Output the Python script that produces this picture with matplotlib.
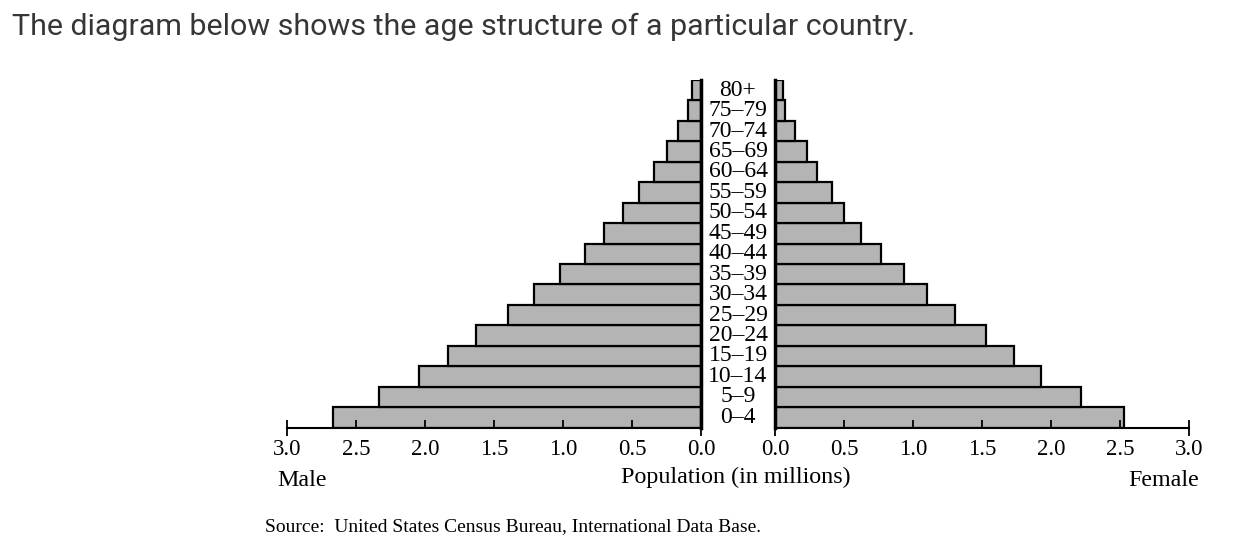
import matplotlib.pyplot as plt
import matplotlib.transforms as mtransforms


# age groups, bottom to top
ages = ["0\u20134", "5\u20139", "10\u201314", "15\u201319", "20\u201324", "25\u201329",
        "30\u201334", "35\u201339", "40\u201344", "45\u201349", "50\u201354", "55\u201359",
        "60\u201364", "65\u201369", "70\u201374", "75\u201379", "80+"]
male = [2.67, 2.33, 2.04, 1.83, 1.63, 1.40, 1.21, 1.02, 0.84, 0.705, 0.565,
        0.45, 0.343, 0.25, 0.164, 0.096, 0.062]
female = [2.53, 2.215, 1.93, 1.73, 1.53, 1.305, 1.10, 0.935, 0.768, 0.62, 0.50,
          0.41, 0.304, 0.232, 0.147, 0.072, 0.058]
ticks = [0.0, 0.5, 1.0, 1.5, 2.0, 2.5, 3.0]
tick_labels = ["0.0", "0.5", "1.0", "1.5", "2.0", "2.5", "3.0"]

serif = "Liberation Serif"
bar_col = "#b4b4b4"

fig = plt.figure(figsize=(12.45, 5.5), dpi=100)
W, H = 1245, 550

def fx(px):
    return px / W

def fy(py):
    return 1 - py / H

bot, top = fy(427.5), fy(80)
ax_m = fig.add_axes([fx(287), bot, fx(701) - fx(287), top - bot])
ax_f = fig.add_axes([fx(775), bot, fx(1189) - fx(775), top - bot])

pos = list(range(len(ages)))
ax_m.barh(pos, male, height=1.0, color=bar_col, edgecolor="black", linewidth=1.6)
ax_f.barh(pos, female, height=1.0, color=bar_col, edgecolor="black", linewidth=1.6)

for ax in (ax_m, ax_f):
    ax.set_ylim(-0.5, len(ages) - 0.5)
    ax.set_yticks([])
    ax.set_xticks(ticks)
    ax.set_xticklabels(tick_labels, fontfamily=serif, fontsize=16.5)
    ax.tick_params(axis="x", direction="in", length=6, width=1.3, pad=8)
    ax.spines["top"].set_visible(False)
    ax.spines["bottom"].set_linewidth(1.5)
    ax.xaxis.remove_overlapping_locs = False
    ax.set_xticks([0.0, 3.0], minor=True)
    ax.tick_params(axis="x", which="minor", direction="out", length=6, width=1.3)
    ax.set_axisbelow(False)

ax_m.set_xlim(3, 0)
ax_m.spines["left"].set_visible(False)
ax_m.spines["right"].set_linewidth(2.5)
ax_f.set_xlim(0, 3)
ax_f.spines["right"].set_visible(False)
ax_f.spines["left"].set_linewidth(2.5)

# age labels in the gap between the halves
tr = mtransforms.blended_transform_factory(fig.transFigure, ax_f.transData)
for p, a in zip(pos, ages):
    fig.text(fx(738), p, a, transform=tr, ha="center", va="center",
             fontfamily=serif, fontsize=17)

fig.text(fx(302), fy(481), "Male", ha="center", va="center", fontfamily=serif, fontsize=17.3)
fig.text(fx(1164), fy(481), "Female", ha="center", va="center", fontfamily=serif, fontsize=17.3)
fig.text(fx(736), fy(477), "Population (in millions)", ha="center", va="center",
         fontfamily=serif, fontsize=17.3)
fig.text(fx(265), fy(527), "Source:  United States Census Bureau, International Data Base.",
         ha="left", va="center", fontfamily=serif, fontsize=14)
fig.text(fx(12), fy(27), "The diagram below shows the age structure of a particular country.",
         ha="left", va="center", fontfamily="Roboto", fontsize=21.9, color="#363636")

fig.savefig("out.png", dpi=100)
